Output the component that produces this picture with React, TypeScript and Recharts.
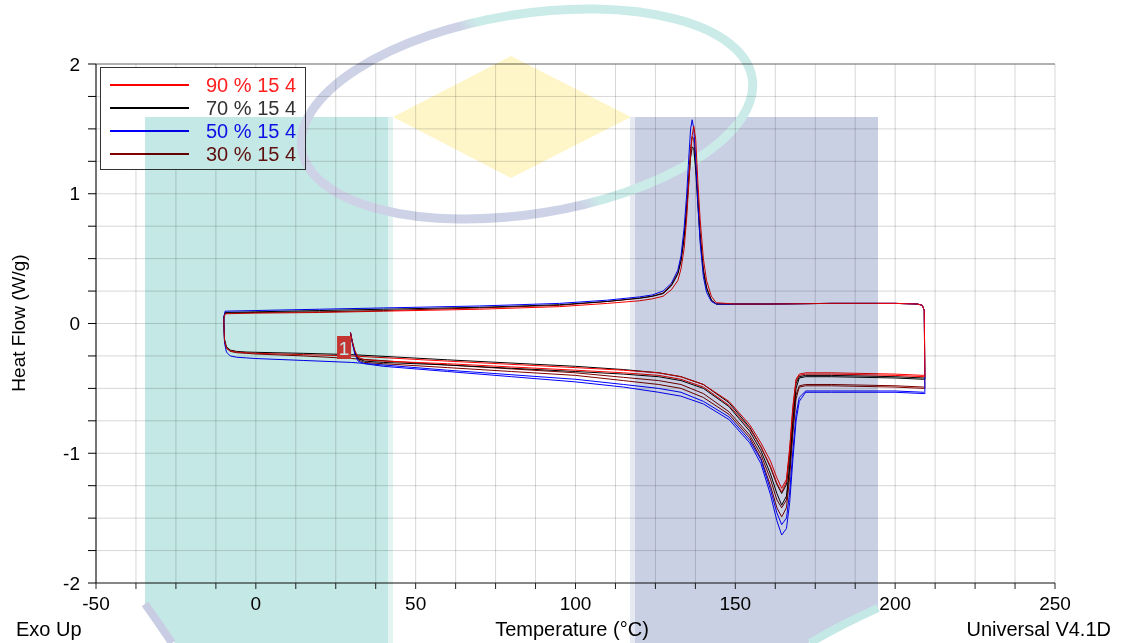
import React from 'react'
import { LineChart, Line, XAxis, YAxis, CartesianGrid, ReferenceLine, ReferenceDot } from 'recharts'

// temperatures (°C) at which the traces were read
const heat1Temps = [29.6, 30.2, 31, 32, 34, 40, 60, 80, 100, 115, 126, 133, 140, 148, 154.5, 158, 161, 163, 164.5, 166, 167, 168, 169, 170, 172, 180, 200, 209]
const coolTemps = [209.3, 209.1, 208.5, 207, 200, 180, 160, 150, 144, 142.5, 141, 140, 139, 138.3, 137.6, 137, 136.5, 136, 135.3, 134.8, 134, 133, 132, 130, 127.4, 124, 120, 110, 95, 70, 40, 20, 0, -9.6, -10]
const heat2Temps = [-10, -9.8, -9.2, -8, -6, -3, 0, 15, 30, 60, 100, 115, 126, 133, 140, 148, 154.5, 158, 161, 163, 164.5, 166, 167, 168, 169, 170, 172, 180, 200, 209]

// heat flow (W/g), 90 % 15 4
const s90Heat1 = [-0.07, -0.14, -0.21, -0.26, -0.28, -0.29, -0.31, -0.335, -0.36, -0.38, -0.4, -0.43, -0.49, -0.63, -0.81, -0.95, -1.1, -1.23, -1.3, -1.22, -0.98, -0.66, -0.44, -0.4, -0.39, -0.39, -0.4, -0.41]
const s90Cool = [-0.41, 0.1, 0.14, 0.15, 0.155, 0.155, 0.15, 0.15, 0.16, 0.21, 0.33, 0.5, 0.8, 1.08, 1.42, 1.52, 1.45, 1.3, 1.02, 0.82, 0.58, 0.42, 0.33, 0.26, 0.21, 0.19, 0.175, 0.155, 0.13, 0.11, 0.095, 0.085, 0.08, 0.075, 0.04]
const s90Heat2 = [0.0, -0.13, -0.19, -0.21, -0.22, -0.225, -0.23, -0.24, -0.25, -0.29, -0.34, -0.36, -0.38, -0.41, -0.47, -0.6, -0.78, -0.92, -1.06, -1.19, -1.27, -1.2, -0.96, -0.64, -0.43, -0.39, -0.38, -0.38, -0.39, -0.4]

// 70 % 15 4
const s70Heat1 = [-0.07, -0.14, -0.22, -0.27, -0.29, -0.3, -0.32, -0.345, -0.37, -0.39, -0.41, -0.44, -0.5, -0.64, -0.83, -0.98, -1.16, -1.31, -1.4, -1.33, -1.1, -0.75, -0.5, -0.42, -0.41, -0.41, -0.42, -0.43]
const s70Cool = [-0.43, 0.1, 0.14, 0.15, 0.155, 0.155, 0.15, 0.15, 0.15, 0.18, 0.27, 0.4, 0.65, 0.9, 1.18, 1.35, 1.36, 1.28, 1.05, 0.88, 0.66, 0.48, 0.38, 0.29, 0.23, 0.21, 0.195, 0.17, 0.145, 0.125, 0.11, 0.1, 0.09, 0.085, 0.05]
const s70Heat2 = [0.0, -0.12, -0.18, -0.205, -0.215, -0.22, -0.222, -0.23, -0.24, -0.28, -0.33, -0.355, -0.38, -0.41, -0.47, -0.61, -0.8, -0.95, -1.11, -1.24, -1.31, -1.24, -1.02, -0.7, -0.46, -0.41, -0.4, -0.4, -0.41, -0.42]

// 50 % 15 4
const s50Heat1 = [-0.07, -0.15, -0.24, -0.29, -0.31, -0.33, -0.37, -0.41, -0.45, -0.49, -0.53, -0.56, -0.62, -0.74, -0.92, -1.08, -1.32, -1.52, -1.63, -1.58, -1.38, -1.05, -0.75, -0.6, -0.53, -0.53, -0.53, -0.54]
const s50Cool = [-0.54, 0.1, 0.14, 0.15, 0.155, 0.155, 0.15, 0.15, 0.15, 0.17, 0.24, 0.36, 0.62, 0.92, 1.28, 1.5, 1.57, 1.5, 1.22, 1.0, 0.74, 0.52, 0.41, 0.31, 0.25, 0.22, 0.205, 0.18, 0.155, 0.135, 0.12, 0.11, 0.1, 0.095, 0.05]
const s50Heat2 = [0.0, -0.15, -0.22, -0.25, -0.26, -0.265, -0.27, -0.285, -0.3, -0.36, -0.43, -0.47, -0.5, -0.53, -0.6, -0.72, -0.9, -1.05, -1.28, -1.46, -1.55, -1.5, -1.3, -0.98, -0.7, -0.57, -0.52, -0.52, -0.52, -0.53]

// 30 % 15 4
const s30Heat1 = [-0.07, -0.15, -0.23, -0.28, -0.3, -0.31, -0.34, -0.37, -0.4, -0.44, -0.47, -0.5, -0.57, -0.7, -0.88, -1.04, -1.25, -1.42, -1.49, -1.42, -1.18, -0.85, -0.58, -0.49, -0.48, -0.48, -0.49, -0.5]
const s30Cool = [-0.5, 0.1, 0.14, 0.15, 0.155, 0.155, 0.15, 0.15, 0.15, 0.18, 0.28, 0.42, 0.7, 0.98, 1.22, 1.42, 1.44, 1.35, 1.1, 0.92, 0.68, 0.49, 0.39, 0.3, 0.235, 0.21, 0.195, 0.17, 0.14, 0.12, 0.1, 0.09, 0.085, 0.08, 0.045]
const s30Heat2 = [0.0, -0.13, -0.19, -0.215, -0.225, -0.23, -0.235, -0.25, -0.27, -0.32, -0.38, -0.415, -0.44, -0.47, -0.54, -0.68, -0.86, -1.01, -1.2, -1.36, -1.42, -1.36, -1.12, -0.8, -0.55, -0.48, -0.47, -0.47, -0.48, -0.49]

const seriesNames = ['90 % 15 4', '70 % 15 4', '50 % 15 4', '30 % 15 4']
const seriesColors = ['#ff0000', '#000000', '#0000ff', '#800000']
const legendTextColors = ['#ff2020', '#333333', '#1010ff', '#7a1010']

const xTicks = [-50, -37.5, -25, -12.5, 0, 12.5, 25, 37.5, 50, 62.5, 75, 87.5, 100, 112.5, 125, 137.5, 150, 162.5, 175, 187.5, 200, 212.5, 225, 237.5, 250]
const yTicks = [-2, -1.75, -1.5, -1.25, -1, -0.75, -0.5, -0.25, 0, 0.25, 0.5, 0.75, 1, 1.25, 1.5, 1.75, 2]

function trace(heat1: number[], cool: number[], heat2: number[]) {
  const pts: { t: number; hf: number }[] = []
  heat1.forEach((v, i) => pts.push({ t: heat1Temps[i], hf: v }))
  cool.forEach((v, i) => pts.push({ t: coolTemps[i], hf: v }))
  heat2.forEach((v, i) => pts.push({ t: heat2Temps[i], hf: v }))
  return pts
}

const traces = [
  trace(s90Heat1, s90Cool, s90Heat2),
  trace(s70Heat1, s70Cool, s70Heat2),
  trace(s50Heat1, s50Cool, s50Heat2),
  trace(s30Heat1, s30Cool, s30Heat2),
]
// draw order so the red trace ends up on top
const drawOrder = [3, 1, 2, 0]

const FONT = '"Liberation Sans", Arial, sans-serif'

function MarkerOne(props: any) {
  const { cx, cy } = props
  if (cx == null || cy == null) return null
  return (
    <g>
      <rect x={cx - 7} y={cy - 11.5} width={14} height={23} fill="#ff3a36" />
      <text x={cx} y={cy + 7} textAnchor="middle" fill="#fff" fontSize={19} fontFamily={FONT}>
        1
      </text>
    </g>
  )
}

function Watermark() {
  return (
    <svg
      width={1131}
      height={643}
      style={{ position: 'absolute', left: 0, top: 0, pointerEvents: 'none', mixBlendMode: 'multiply' }}
    >
      <defs>
        <linearGradient id="ringGrad" gradientUnits="userSpaceOnUse" x1={330} y1={210} x2={730} y2={20}>
          <stop offset="0%" stopColor="#cdd2e6" />
          <stop offset="48%" stopColor="#cdd2e6" />
          <stop offset="52%" stopColor="#cbebe8" />
          <stop offset="100%" stopColor="#cbebe8" />
        </linearGradient>
      </defs>
      <polygon points="145,117 388,117 388,643 175,643 145,607" fill="#c4e8e5" />
      <rect x={388} y={117} width={5} height={526} fill="#e3f4f2" />
      <rect x={630} y={117} width={5} height={526} fill="#e6e9f2" />
      <polygon points="635,117 878,117 878,607 808,643 635,643" fill="#c9d0e4" />
      <polygon points="393,117 511,56 631,117 511,178" fill="#fef6c8" />
      <ellipse
        cx={527}
        cy={114}
        rx={228}
        ry={100}
        transform="rotate(-9 527 114)"
        fill="none"
        stroke="url(#ringGrad)"
        strokeWidth={9}
      />
      <path d="M145,604 Q158,622 172,643" fill="none" stroke="#c9cde3" strokeWidth={8} />
      <path d="M878,608 Q840,625 810,643" fill="none" stroke="#c4e8e5" strokeWidth={8} />
    </svg>
  )
}

export default function App() {
  return (
    <div
      style={{
        position: 'absolute',
        left: 0,
        top: 0,
        width: 1131,
        height: 643,
        background: '#fff',
        fontFamily: FONT,
        overflow: 'hidden',
      }}
    >
      <LineChart width={1131} height={643} margin={{ top: 64, right: 76, left: 0, bottom: 0 }}>
        <CartesianGrid stroke="#000" strokeOpacity={0.16} />
        <XAxis
          type="number"
          dataKey="t"
          domain={[-50, 250]}
          ticks={xTicks}
          interval={0}
          height={60}
          tickSize={6}
          tickMargin={8}
          tick={{ fontSize: 19, fill: '#000', fontFamily: FONT }}
          tickFormatter={(v: number) => (v % 50 === 0 ? String(v) : '')}
          axisLine={{ stroke: '#222' }}
          tickLine={{ stroke: '#222' }}
          allowDuplicatedCategory={false}
        />
        <YAxis
          type="number"
          domain={[-2, 2]}
          ticks={yTicks}
          interval={0}
          width={96}
          tickSize={8}
          tickMargin={8}
          tick={{ fontSize: 19, fill: '#000', fontFamily: FONT }}
          tickFormatter={(v: number) => (Number.isInteger(v) ? String(v) : '')}
          axisLine={{ stroke: '#000' }}
          tickLine={{ stroke: '#000' }}
        />
        <ReferenceLine y={2} stroke="#777" />
        {drawOrder.map((i) => (
          <Line
            key={seriesNames[i]}
            data={traces[i]}
            dataKey="hf"
            name={seriesNames[i]}
            type="linear"
            stroke={seriesColors[i]}
            strokeWidth={1}
            dot={false}
            isAnimationActive={false}
          />
        ))}
        <ReferenceDot x={27.6} y={-0.185} shape={MarkerOne} />
      </LineChart>

      {/* legend box */}
      <div
        style={{
          position: 'absolute',
          left: 100,
          top: 67,
          width: 204,
          height: 101,
          border: '1px solid #333',
          background: '#fff',
        }}
      >
        {seriesNames.map((name, i) => (
          <div
            key={name}
            style={{
              position: 'absolute',
              left: 0,
              top: 6 + i * 23,
              height: 22,
              width: 204,
              display: 'flex',
              alignItems: 'center',
            }}
          >
            <div style={{ marginLeft: 9, width: 79, height: 1.5, background: seriesColors[i] }} />
            <span style={{ marginLeft: 17, fontSize: 20, color: legendTextColors[i], whiteSpace: 'nowrap' }}>
              {name}
            </span>
          </div>
        ))}
      </div>

      <div
        style={{
          position: 'absolute',
          left: 20 - 100,
          top: 323 - 12,
          width: 200,
          height: 24,
          textAlign: 'center',
          fontSize: 19,
          transform: 'rotate(-90deg)',
          whiteSpace: 'nowrap',
        }}
      >
        Heat Flow (W/g)
      </div>
      <div style={{ position: 'absolute', left: 16, top: 618, fontSize: 20 }}>Exo Up</div>
      <div style={{ position: 'absolute', left: 472, width: 200, top: 618, fontSize: 20, textAlign: 'center' }}>
        Temperature (°C)
      </div>
      <div style={{ position: 'absolute', right: 20, top: 618, fontSize: 20 }}>Universal V4.1D</div>

      <Watermark />
    </div>
  )
}
